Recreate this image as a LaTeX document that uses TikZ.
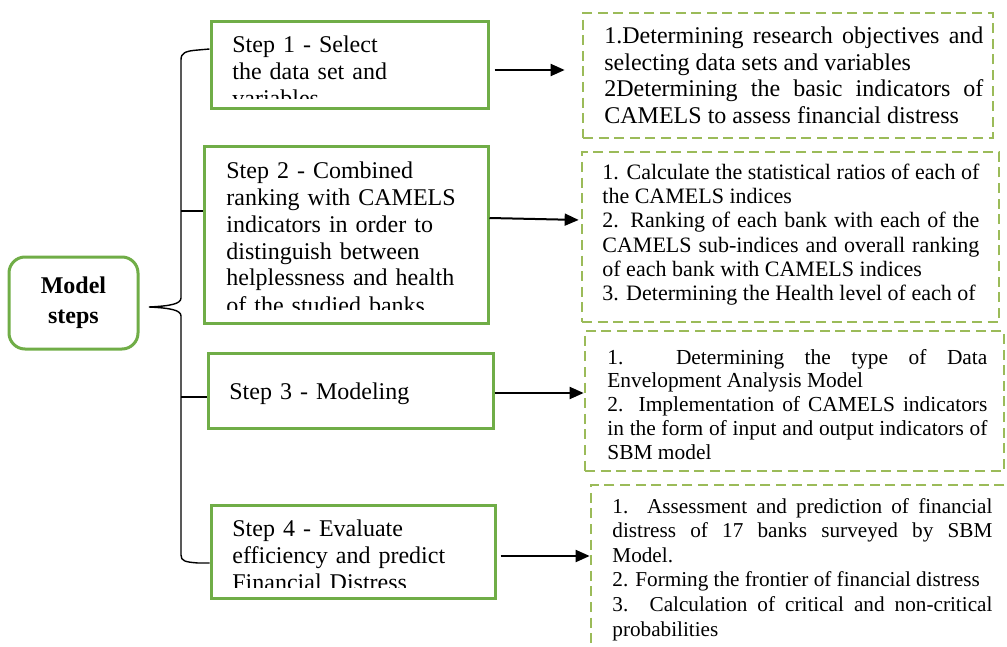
\documentclass[tikz,border=0pt]{standalone}
\usepackage{fontspec}
\setmainfont{Liberation Serif}
\usetikzlibrary{arrows.meta}
\definecolor{stepgreen}{RGB}{112,173,71}
\definecolor{taskgreen}{RGB}{155,187,89}

\begin{document}
\begin{tikzpicture}[x=0.5pt, y=-0.5pt,
  modelbox/.style={draw=stepgreen, line width=1.5pt, rounded corners=8pt, align=center,
    font=\bfseries\fontsize{12}{15}\selectfont},
  stepbox/.style={draw=stepgreen, line width=1.5pt, inner sep=0pt},
  taskbox/.style={draw=taskgreen, line width=1.35pt, dash pattern=on 5pt off 2.8pt, inner sep=0pt},
  steptext/.style={anchor=base west, text width=135pt, align=left, inner sep=0pt,
    font=\fontsize{12}{13.5}\selectfont},
  tasktext/.style={anchor=base west, align=justify, inner sep=0pt},
  flowarrow/.style={-{Triangle[length=7pt, width=6pt]}, line width=1pt},
  bracket/.style={line width=0.7pt}]

  \useasboundingbox (0,0) rectangle (1007,647);
  \clip (0,0) rectangle (1007,647);

  % Model steps
  \node[modelbox, minimum width=64.5pt, minimum height=46pt] (model) at (73.5,303) {Model\\steps};

  % Step boxes
  \node[stepbox, minimum width=138.5pt, minimum height=43.5pt] (s1) at (349.5,65.5) {};
  \node[stepbox, minimum width=142pt, minimum height=88pt] (s2) at (346,235) {};
  \node[stepbox, minimum width=142.5pt, minimum height=37.5pt] (s3) at (350.5,390.5) {};
  \node[stepbox, minimum width=142pt, minimum height=46.5pt] (s4) at (353,551.5) {};

  % Step texts, cut off at the bottom of their boxes
  \begin{scope}
    \clip (213,24) rectangle (486,99);
    \node[steptext] (s1t) at (232,53) {Step 1 - Select\\the data set and\\variables};
  \end{scope}
  \begin{scope}
    \clip (206,149) rectangle (486,309);
    \node[steptext] (s2t) at (226,178) {Step 2 - Combined\\ranking with CAMELS\\indicators in order to\\distinguish between\\helplessness and health\\of the studied banks};
  \end{scope}
  \node[steptext] (s3t) at (229,399) {Step 3 - Modeling};
  \begin{scope}
    \clip (213,507) rectangle (493,587);
    \node[steptext] (s4t) at (232,536) {Step 4 - Evaluate\\efficiency and predict\\Financial Distress};
  \end{scope}

  % Task boxes
  \node[taskbox, minimum width=205pt, minimum height=62.5pt] (r1) at (788,75.5) {};
  \node[taskbox, minimum width=208.5pt, minimum height=85pt] (r2) at (790.5,237) {};
  \node[taskbox, minimum width=209.5pt, minimum height=70pt] (r3) at (794.5,401) {};
  \node[taskbox, minimum width=217pt, minimum height=92.5pt] (r4) at (808,577.5) {};

  \node[tasktext, text width=189.5pt, font=\fontsize{12}{13.25}\selectfont] (r1t) at (604,44)
    {1.Determining research objectives and\linebreak selecting data sets and variables\\
     2Determining the basic indicators of\linebreak CAMELS to assess financial distress};
  \node[tasktext, text width=188.5pt, font=\fontsize{11}{12.2}\selectfont] (r2t) at (602,179)
    {1. Calculate the statistical ratios of each of\linebreak the CAMELS indices\\
     2. Ranking of each bank with each of the\linebreak CAMELS sub-indices and overall ranking\linebreak of each bank with CAMELS indices\\
     \parfillskip=0pt 3. Determining the Health level of each of};
  \node[tasktext, text width=190pt, font=\fontsize{10.7}{11.9}\selectfont] (r3t) at (607,364)
    {1. Determining the type of Data\linebreak Envelopment Analysis Model\\
     2. Implementation of CAMELS indicators\linebreak in the form of input and output indicators of\linebreak SBM model};
  \node[tasktext, text width=190pt, font=\fontsize{10.6}{12.3}\selectfont] (r4t) at (612,513)
    {1. Assessment and prediction of financial\linebreak distress of 17 banks surveyed by SBM\linebreak Model.\\
     2. Forming the frontier of financial distress\\
     3. Calculation of critical and non-critical\linebreak probabilities};

  % Brace
  \coordinate (tip) at (149,307);
  \draw[bracket] (s1.west |- 0,49) -- (198,50) .. controls (185,51) and (181,53) .. (181,60)
    -- (181,298) .. controls (181,304) and (170,306) .. (tip)
    .. controls (170,308) and (181,310) .. (181,316)
    -- (181,555) .. controls (181,561) and (185,562) .. (198,563) -- (s4.west |- 0,563);
  \draw[bracket] (181,211) -- (s2.west |- 0,211);
  \draw[bracket] (181,397) -- (s3.west |- 0,397);

  % Arrows
  \draw[flowarrow, shorten <=2.5pt, shorten >=8.5pt] (s1.east |- 0,70) -- (r1.west |- 0,70);
  \draw[flowarrow, shorten >=1pt] (s2.east |- 0,218) -- (r2.west |- 0,220);
  \draw[flowarrow] (s3.east |- 0,393) -- (r3.west |- 0,393);
  \draw[flowarrow, shorten <=2pt] (s4.east |- 0,556) -- (r4.west |- 0,556);

\end{tikzpicture}
\end{document}
